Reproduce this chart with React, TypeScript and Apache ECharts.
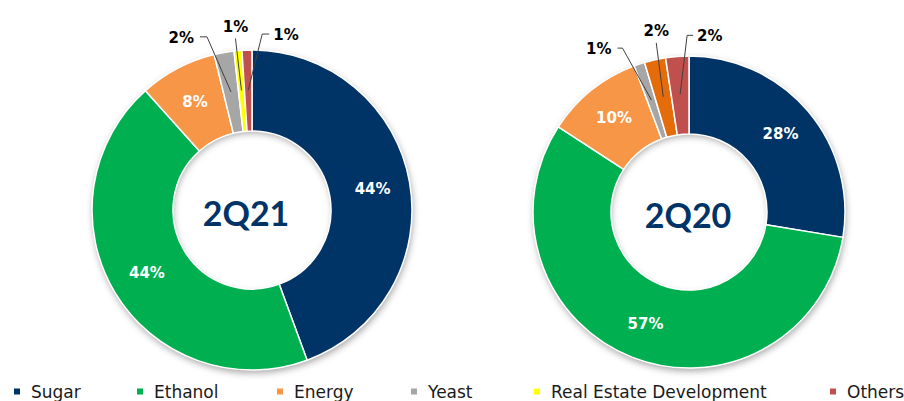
import React, { useEffect, useRef } from 'react';
import * as echarts from 'echarts';

// ---- data ----
const categories = ['Sugar', 'Ethanol', 'Energy', 'Yeast', 'Real Estate Development', 'Others'];
const periods = ['2Q21', '2Q20'];
const values2Q21 = [44.4, 44.0, 7.8, 2.0, 0.8, 1.0];
const values2Q20 = [27.6, 56.6, 10.1, 1.1, 2.2, 2.4];

// ---- styles ----
const categoryColors = ['#003366', '#00B050', '#F79646', '#A6A6A6', '#FFFF00', '#C0504D'];
const colors2Q20 = ['#003366', '#00B050', '#F79646', '#A6A6A6', '#E46C0A', '#C0504D'];
const insideLabelIdx = [0, 1, 2];

type Guide = { dx: number; dy: number; tail: number; align: 'left' | 'right' | 'center' } | null;
const guides2Q21: Guide[] = [
  null, null, null,
  { dx: -24, dy: -55, tail: -7, align: 'right' },
  { dx: -6, dy: -52, tail: 0, align: 'center' },
  { dx: 14, dy: -56, tail: 7, align: 'left' },
];
const guides2Q20: Guide[] = [
  null, null, null,
  { dx: -29, dy: -52, tail: -5, align: 'right' },
  { dx: -7, dy: -54, tail: 0, align: 'center' },
  { dx: 7, dy: -59, tail: 6, align: 'left' },
];

const charts = [
  { name: periods[0], values: values2Q21, colors: categoryColors, center: [252, 210], radius: [79, 160], guideR: 120, guides: guides2Q21, textX: 246 },
  { name: periods[1], values: values2Q20, colors: colors2Q20, center: [689, 212], radius: [78, 156], guideR: 118, guides: guides2Q20, textX: 688 },
];

const legendLeft = [12, 135, 275, 409, 532, 828];

const FONT = 'DejaVu Sans';

function buildOption() {
  const series: any[] = [];
  const graphic: any[] = [];
  charts.forEach((c) => {
    // shadow backdrop
    series.push({
      type: 'pie',
      name: c.name + '-shadow',
      z: 1,
      center: c.center,
      radius: [c.radius[0] + 1, c.radius[1]],
      silent: true,
      label: { show: false },
      labelLine: { show: false },
      itemStyle: { color: '#ffffff', shadowBlur: 7, shadowOffsetY: 3, shadowOffsetX: 1, shadowColor: 'rgba(0,0,0,0.35)' },
      emphasis: { disabled: true },
      data: [{ name: '__bg', value: 1 }],
    });
    // main ring
    series.push({
      type: 'pie',
      name: c.name,
      z: 2,
      center: c.center,
      radius: c.radius,
      startAngle: 90,
      clockwise: true,
      avoidLabelOverlap: false,
      emphasis: { disabled: true },
      itemStyle: { borderColor: '#ffffff', borderWidth: 1.5 },
      label: {
        show: true,
        position: 'inside',
        color: '#ffffff',
        fontFamily: FONT,
        fontWeight: 'bold',
        fontSize: 15,
        formatter: (p: any) => `${Math.round(p.value)}%`,
      },
      labelLine: { show: false },
      data: categories.map((n, i) => ({
        name: n,
        value: c.values[i],
        itemStyle: { color: c.colors[i] },
        label: { show: insideLabelIdx.includes(i) },
      })),
    });
    // overlay for outside labels of small slices
    const guides = c.guides;
    series.push({
      type: 'pie',
      name: c.name + '-labels',
      z: 5,
      zlevel: 0,
      center: c.center,
      radius: [0, c.guideR],
      startAngle: 90,
      clockwise: true,
      silent: true,
      avoidLabelOverlap: false,
      emphasis: { disabled: true },
      itemStyle: { color: 'rgba(0,0,0,0)' },
      label: {
        show: true,
        position: 'outside',
        color: '#000000',
        fontFamily: FONT,
        fontWeight: 'bold',
        fontSize: 15,
        formatter: (p: any) => `${Math.round(p.value)}%`,
      },
      labelLine: { show: true, length: 20, length2: 5, lineStyle: { color: '#404040', width: 1 } },
      labelLayout: (p: any) => {
        const g = guides[p.dataIndex];
        const pts = p.labelLinePoints;
        if (!g || !pts) return {};
        const a = pts[0];
        const e = [a[0] + g.dx, a[1] + g.dy];
        const t = [e[0] + g.tail, e[1]];
        if (g.align === 'center') {
          return { x: t[0], y: t[1] - 4, align: 'center', verticalAlign: 'bottom', labelLinePoints: [a, e, t] };
        }
        return {
          x: t[0] + (g.align === 'left' ? 4 : -6),
          y: t[1] + 1,
          align: g.align,
          verticalAlign: 'middle',
          labelLinePoints: [a, e, t],
        };
      },
      data: categories.map((n, i) => ({
        name: n,
        value: c.values[i],
        label: { show: !!guides[i] },
        labelLine: { show: !!guides[i] },
      })),
    });
    graphic.push({
      type: 'text',
      x: c.textX,
      y: c.center[1] + 2,
      silent: true,
      style: {
        text: c.name,
        align: 'center',
        verticalAlign: 'middle',
        textAlign: 'center',
        textVerticalAlign: 'middle',
        fill: '#003366',
        font: `bold 34px Lato`,
      },
    });
  });

  const legend = categories.map((n, i) => ({
    data: [{ name: n, itemStyle: { color: categoryColors[i] } }],
    left: legendLeft[i],
    top: 383,
    padding: 0,
    icon: 'rect',
    itemWidth: 8,
    itemHeight: 8,
    selectedMode: false,
    textStyle: { fontFamily: FONT, fontSize: 17, color: '#1a1a1a', padding: [0, 0, 0, 5] },
  }));

  return {
    animation: false,
    backgroundColor: '#ffffff',
    legend,
    series,
    graphic,
  };
}

export default function App() {
  const ref = useRef<HTMLDivElement>(null);
  useEffect(() => {
    if (!ref.current) return;
    const chart = echarts.init(ref.current, undefined, { renderer: 'svg' });
    chart.setOption(buildOption() as any);
    return () => chart.dispose();
  }, []);
  return (
    <div
      ref={ref}
      style={{ position: 'fixed', left: 0, top: 0, width: 904, height: 401, background: '#fff' }}
    />
  );
}
